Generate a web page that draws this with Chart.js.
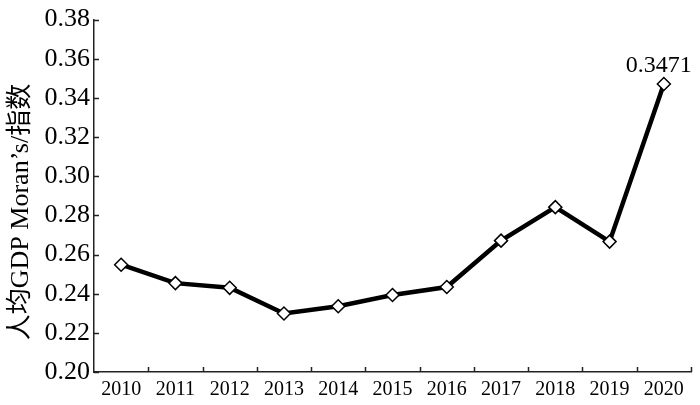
<!DOCTYPE html>
<html>
<head>
<meta charset="utf-8">
<script src="https://cdn.jsdelivr.net/npm/chart.js@4/dist/chart.umd.min.js"></script>
<style>
  body { margin: 0; background: #fff; }
  #wrap { width: 700px; height: 405px; position: relative; }
</style>
</head>
<body>
<div id="wrap"><canvas id="myChart"></canvas></div>
<script>
const years = ["2010", "2011", "2012", "2013", "2014", "2015", "2016", "2017", "2018", "2019", "2020"];
const moran = [0.2548, 0.2454, 0.2430, 0.2299, 0.2336, 0.2393, 0.2434, 0.2671, 0.2842, 0.2666, 0.3471];
const yTicks = [0.20, 0.22, 0.24, 0.26, 0.28, 0.30, 0.32, 0.34, 0.36, 0.38];
const yTitle = "人均GDP Moran’s/指数";
const lastLabel = "0.3471";

const serif = "'Liberation Serif', 'Noto Sans CJK SC', serif";

// inward tick marks, y title and the value label on the last point
const extras = {
    id: 'extras',
    afterDraw(chart) {
        const ctx = chart.ctx;
        const x = chart.scales.x, y = chart.scales.y;
        ctx.save();
        ctx.strokeStyle = '#222';
        ctx.lineWidth = 1.5;
        ctx.beginPath();
        yTicks.forEach(v => {
            const py = Math.round(y.getPixelForValue(v)) + 0.5;
            ctx.moveTo(x.left, py);
            ctx.lineTo(x.left + 5, py);
        });
        const n = years.length;
        for (let i = 1; i <= n; i++) {
            const px = Math.round(x.left + i * x.width / n) + 0.5;
            ctx.moveTo(px, y.bottom);
            ctx.lineTo(px, y.bottom - 5);
        }
        ctx.stroke();

        // y axis title
        ctx.fillStyle = '#000';
        ctx.font = '26px ' + serif;
        ctx.textAlign = 'center';
        ctx.textBaseline = 'middle';
        ctx.translate(21, 212);
        ctx.rotate(-Math.PI / 2);
        ctx.fillText(yTitle, 0, 0);
        ctx.restore();

        // value label above 2020
        const pt = chart.getDatasetMeta(0).data[n - 1];
        ctx.save();
        ctx.fillStyle = '#000';
        ctx.font = '24px ' + serif;
        ctx.textAlign = 'center';
        ctx.textBaseline = 'alphabetic';
        ctx.fillText(lastLabel, pt.x - 5, pt.y - 12);
        ctx.restore();
    }
};

const ctx = document.getElementById("myChart");
const myChart = new Chart(ctx, {
    type: 'line',
    data: {
        labels: years,
        datasets: [{
            data: moran,
            borderColor: '#000',
            borderWidth: 4.5,
            tension: 0,
            pointStyle: 'rectRot',
            pointRadius: 6.5,
            pointBackgroundColor: '#fff',
            pointBorderColor: '#000',
            pointBorderWidth: 1.5
        }]
    },
    options: {
        responsive: true,
        maintainAspectRatio: false,
        animation: false,
        layout: { padding: { top: 15, right: 9, left: 0, bottom: 0 } },
        plugins: {
            legend: { display: false },
            tooltip: { enabled: false }
        },
        scales: {
            x: {
                offset: true,
                grid: { display: false, drawTicks: false, tickLength: 0 },
                border: { display: true, color: '#222', width: 1.5 },
                ticks: {
                    color: '#000',
                    padding: 6,
                    maxRotation: 0,
                    font: { family: serif, size: 20 }
                },
                afterFit: s => { s.height = 33; }
            },
            y: {
                min: 0.2,
                max: 0.38,
                grid: { display: false, drawTicks: false, tickLength: 0 },
                border: { display: true, color: '#222', width: 1.5 },
                ticks: {
                    stepSize: 0.02,
                    color: '#000',
                    padding: 4,
                    font: { family: serif, size: 26 },
                    callback: v => v.toFixed(2)
                },
                afterFit: s => { s.width = 94; }
            }
        }
    },
    plugins: [extras]
});
</script>
</body>
</html>
